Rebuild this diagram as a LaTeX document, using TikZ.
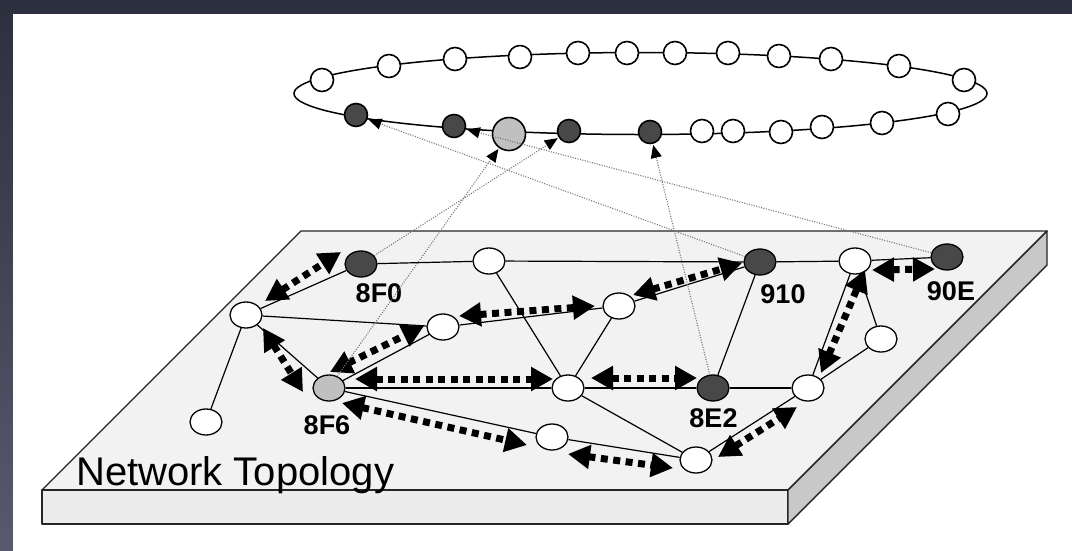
\documentclass[tikz,border=0pt]{standalone}
\usepackage{fontspec}
\setmainfont{Liberation Sans}
\usetikzlibrary{arrows.meta,calc,shapes.geometric}
\pgfdeclarelayer{back}
\pgfdeclarelayer{edges}
\pgfsetlayers{back,edges,main}
\definecolor{frametop}{RGB}{44,47,62}
\definecolor{framebot}{RGB}{88,90,110}
\definecolor{darknode}{RGB}{72,72,72}
\definecolor{lightnode}{RGB}{192,192,192}
\definecolor{topface}{RGB}{242,242,242}
\definecolor{frontface}{RGB}{236,236,236}
\definecolor{sideface}{RGB}{200,200,200}
\begin{document}
\begin{tikzpicture}[x=1pt,y=-1pt,
  pn/.style={ellipse,draw=black,line width=1.3pt,minimum width=32pt,minimum height=26pt,inner sep=0pt,fill=white},
  pdark/.style={pn,fill=darknode},
  plight/.style={pn,fill=lightnode},
  rn/.style={circle,draw=black,line width=1.6pt,minimum size=23pt,inner sep=0pt,fill=white},
  rdark/.style={rn,fill=darknode},
  rlight/.style={rn,minimum size=33pt,fill=lightnode},
  link/.style={line width=1.2pt,draw=black},
  dotarrow/.style={line width=7pt,dash pattern=on 7pt off 5.5pt,{Triangle[length=22pt,width=23pt]}-{Triangle[length=22pt,width=23pt]}},
  maparrow/.style={draw=black!55,line width=1.1pt,dash pattern=on 1pt off 1.5pt,-{Triangle[length=13pt,width=11pt,color=black]},shorten >=1pt},
  lbl/.style={font=\fontsize{27}{30}\selectfont\bfseries,inner sep=0pt}
]
\useasboundingbox (0,0) rectangle (1072,550);
% frame
\begin{pgfonlayer}{back}
\shade[top color=frametop,bottom color=framebot] (-5,-5) rectangle (1080,560);
\fill[white] (13,14) rectangle (1085,565);
% platform
\filldraw[fill=topface,draw=black!85,line width=1.4pt,line join=round] (301,231) -- (1047,231) -- (788,490) -- (42,490) -- cycle;
\filldraw[fill=frontface,draw=black!85,line width=1.4pt,line join=round] (42,490) rectangle (788,524);
\filldraw[fill=sideface,draw=black!85,line width=1.4pt,line join=round] (788,490) -- (1047,231) -- (1047,265) -- (788,524) -- cycle;
\end{pgfonlayer}

% platform nodes
\node[pdark] (F0) at (361,264) {};
\node[pn] (W2) at (489,261) {};
\node[pdark] (N910) at (760,262) {};
\node[pn] (F) at (855,261) {};
\node[pdark] (E90) at (947,257) {};
\node[pn] (A) at (246,315) {};
\node[pn] (B) at (443,327) {};
\node[pn] (D) at (619,306) {};
\node[plight] (F6) at (329,388) {};
\node[pn] (C) at (568,388) {};
\node[pdark] (E82) at (713,388) {};
\node[pn] (E) at (808,388) {};
\node[pn] (G) at (881,339) {};
\node[pn] (H) at (206,422) {};
\node[pn] (I) at (552,437) {};
\node[pn] (J) at (696,460) {};

% labels
\node[lbl] (l8F0) at (379,293) {8F0};
\node[lbl] (l8F6) at (327,425) {8F6};
\node[lbl] (l910) at (783,294) {910};
\node[lbl] (l8E2) at (713.5,418) {8E2};
\node[lbl] (l90E) at (951,291) {90E};
\node[anchor=base west,inner sep=0pt,font=\fontsize{40}{48}\selectfont] (title) at (76,485) {Network Topology};

% ring nodes
\node[rn] (t1) at (322,80) {};
\node[rn] (t2) at (389,66) {};
\node[rn] (t3) at (455,59) {};
\node[rn] (t4) at (520,57) {};
\node[rn] (t5) at (578,53) {};
\node[rn] (t6) at (627,53) {};
\node[rn] (t7) at (675,53) {};
\node[rn] (t8) at (728,53) {};
\node[rn] (t9) at (779,56) {};
\node[rn] (t10) at (831,59) {};
\node[rn] (t11) at (899,66) {};
\node[rn] (t12) at (964,80) {};
\node[rdark] (R1) at (356,115) {};
\node[rdark] (R2) at (454,126) {};
\node[rlight] (R3) at (509,134) {};
\node[rdark] (R4) at (569,131) {};
\node[rdark] (R5) at (650,132) {};
\node[rn] (b1) at (702,131) {};
\node[rn] (b2) at (733,131) {};
\node[rn] (b3) at (781,132) {};
\node[rn] (b4) at (822,127) {};
\node[rn] (b5) at (882,123) {};
\node[rn] (b6) at (948,114) {};

\begin{pgfonlayer}{edges}
\draw[line width=1.5pt] (640.5,93.5) ellipse [x radius=346.5, y radius=41];
% solid edges
\draw[link] (F0) -- (W2);
\draw[link] (W2) -- (N910);
\draw[link] (N910) -- (F);
\draw[link] (F) -- (E90);
\draw[link] (A) -- (F0);
\draw[link] (A) -- (B);
\draw[link] (A) -- (H);
\draw[link] (A) -- (F6);
\draw[link] (F6) -- (B);
\draw[link] (F6) -- (C);
\draw[link] (F6) -- (I);
\draw[link] (B) -- (D);
\draw[link] (D) -- (N910);
\draw[link] (D) -- (C);
\draw[link] (W2) -- (C);
\draw[link] (C) -- (J);
\draw[link] (C) -- (E82);
\draw[link] (E82) -- (E);
\draw[link] (E82) -- (N910);
\draw[link] (E) -- (F);
\draw[link] (E) -- (G);
\draw[link] (G) -- (F);
\draw[link] (E) -- (J);
\draw[link] (I) -- (J);
\end{pgfonlayer}

% dotted double arrows
\draw[dotarrow] ($(A)+(19,-14)$) -- ($(F0)+(-20,-12)$);
\draw[dotarrow] ($(A)+(17,13)$) -- ($(F6)+(-26,4)$);
\draw[dotarrow] ($(F6)+(1,-16)$) -- ($(B)+(-19,-1)$);
\draw[dotarrow] ($(B)+(16,-11)$) -- ($(D)+(-24,0)$);
\draw[dotarrow] ($(D)+(14,-11)$) -- ($(N910)+(-18,1)$);
\draw[dotarrow] ($(F6)+(26,-9)$) -- ($(C)+(-15,-9)$);
\draw[dotarrow] ($(C)+(23,-10)$) -- ($(E82)+(-16,-10)$);
\draw[dotarrow] ($(F6)+(13,15)$) -- ($(I)+(-25,8)$);
\draw[dotarrow] ($(I)+(16,17)$) -- ($(J)+(-23,8)$);
\draw[dotarrow] ($(J)+(22,-3)$) -- ($(E)+(-11,19)$);
\draw[dotarrow] ($(E)+(13,-15)$) -- ($(F)+(10,9)$);
\draw[dotarrow] ($(F)+(17,9)$) -- ($(E90)+(-12,12)$);

% mapping lines
\draw[maparrow] (N910) -- (R1);
\draw[maparrow] (E90) -- (R2);
\draw[maparrow] (F6) -- (R3);
\draw[maparrow] (F0) -- (R4);
\draw[maparrow] (E82) -- (R5);
\end{tikzpicture}
\end{document}
